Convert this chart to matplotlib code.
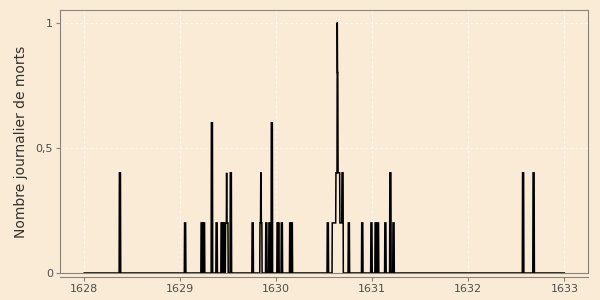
import numpy as np
import matplotlib
matplotlib.use("Agg")
import matplotlib.pyplot as plt

# ---- data: runs of non-zero daily values (start date, number of days, value) ----
run_start = [
    "1628-05-14",
    "1629-01-17",
    "1629-03-21", "1629-03-26", "1629-03-31",
    "1629-04-29",
    "1629-05-17",
    "1629-06-05", "1629-06-10", "1629-06-15",
    "1629-06-22", "1629-06-26", "1629-06-27",
    "1629-07-10",
    "1629-10-01",
    "1629-10-31", "1629-11-03", "1629-11-05",
    "1629-11-22",
    "1629-12-04", "1629-12-09", "1629-12-13",
    "1630-01-04", "1630-01-09", "1630-01-20",
    "1630-02-21", "1630-02-27",
    "1630-07-14",
    "1630-08-02", "1630-08-16", "1630-08-21", "1630-08-22", "1630-08-24",
    "1630-08-31", "1630-09-08",
    "1630-10-02",
    "1630-11-22",
    "1630-12-27",
    "1631-01-12", "1631-01-21",
    "1631-02-18",
    "1631-03-09",
    "1631-03-21",
    "1632-07-26",
    "1632-09-04",
]
run_days = [
    5,
    5,
    4, 4, 4,
    5,
    5,
    4, 4, 4,
    4, 1, 5,
    5,
    5,
    3, 2, 3,
    5,
    4, 3, 5,
    4, 3, 5,
    5, 5,
    5,
    14, 5, 1, 2, 7,
    8, 5,
    5,
    5,
    5,
    5, 5,
    5,
    5,
    5,
    5,
    5,
]
run_value = [
    0.4,
    0.2,
    0.2, 0.2, 0.2,
    0.6,
    0.2,
    0.2, 0.2, 0.2,
    0.2, 0.4, 0.2,
    0.4,
    0.2,
    0.2, 0.4, 0.2,
    0.2,
    0.2, 0.2, 0.6,
    0.2, 0.2, 0.2,
    0.2, 0.2,
    0.2,
    0.2, 0.4, 1.0, 0.8, 0.4,
    0.2, 0.4,
    0.2,
    0.2,
    0.2,
    0.2, 0.2,
    0.2,
    0.4,
    0.2,
    0.4,
    0.4,
]
date_first = "1628-01-01"
date_last = "1633-01-01"
x_tick_years = [1628, 1629, 1630, 1631, 1632, 1633]
y_ticks = [0, 0.5, 1]
y_tick_labels = ["0", "0,5", "1"]
y_label = "Nombre journalier de morts"

# ---- build daily series ----
days = np.arange(np.datetime64(date_first), np.datetime64(date_last) + 1, dtype="datetime64[D]")
values = np.zeros(len(days))
for s, n, v in zip(run_start, run_days, run_value):
    i = int((np.datetime64(s) - days[0]).astype(int))
    values[i:i + n] = v

BG = "#FAEBD7"
BORDER = "#8B8378"
TXT = "#4d4d4d"

fig = plt.figure(figsize=(6, 3), dpi=100, facecolor=BG)
ax = fig.add_axes([60 / 600, 27 / 300, 528 / 600, 263 / 300])
ax.set_facecolor(BG)

ax.plot(days, values, color="black", lw=1.1, zorder=3, solid_joinstyle="miter")

ax.set_xlim(np.datetime64("1627-10-01"), np.datetime64("1633-04-01"))
ax.set_ylim(0, 1.05)

xt = [np.datetime64(f"{y}-01-01") for y in x_tick_years]
ax.set_xticks(xt)
ax.set_xticklabels([str(y) for y in x_tick_years])
ax.set_yticks(y_ticks)
ax.set_yticklabels(y_tick_labels)

for sp in ax.spines.values():
    sp.set_color(BORDER)
    sp.set_linewidth(0.8)
ax.spines["bottom"].set_position(("outward", 3))
ax.plot([0, 1], [0, 0], transform=ax.transAxes, color=BORDER, lw=0.8, clip_on=False, zorder=2)

ax.tick_params(axis="both", colors=BORDER, labelcolor=TXT, labelsize=8, length=3, width=0.8, pad=2)

ax.grid(True, color="white", lw=0.6, ls=(0, (3, 3)), alpha=0.8)
ax.set_axisbelow(True)

ax.set_ylabel(y_label, fontsize=10, color="#333333")
ax.yaxis.set_label_coords(-0.06, 0.5)

fig.savefig("out.png", dpi=100, facecolor=BG)
